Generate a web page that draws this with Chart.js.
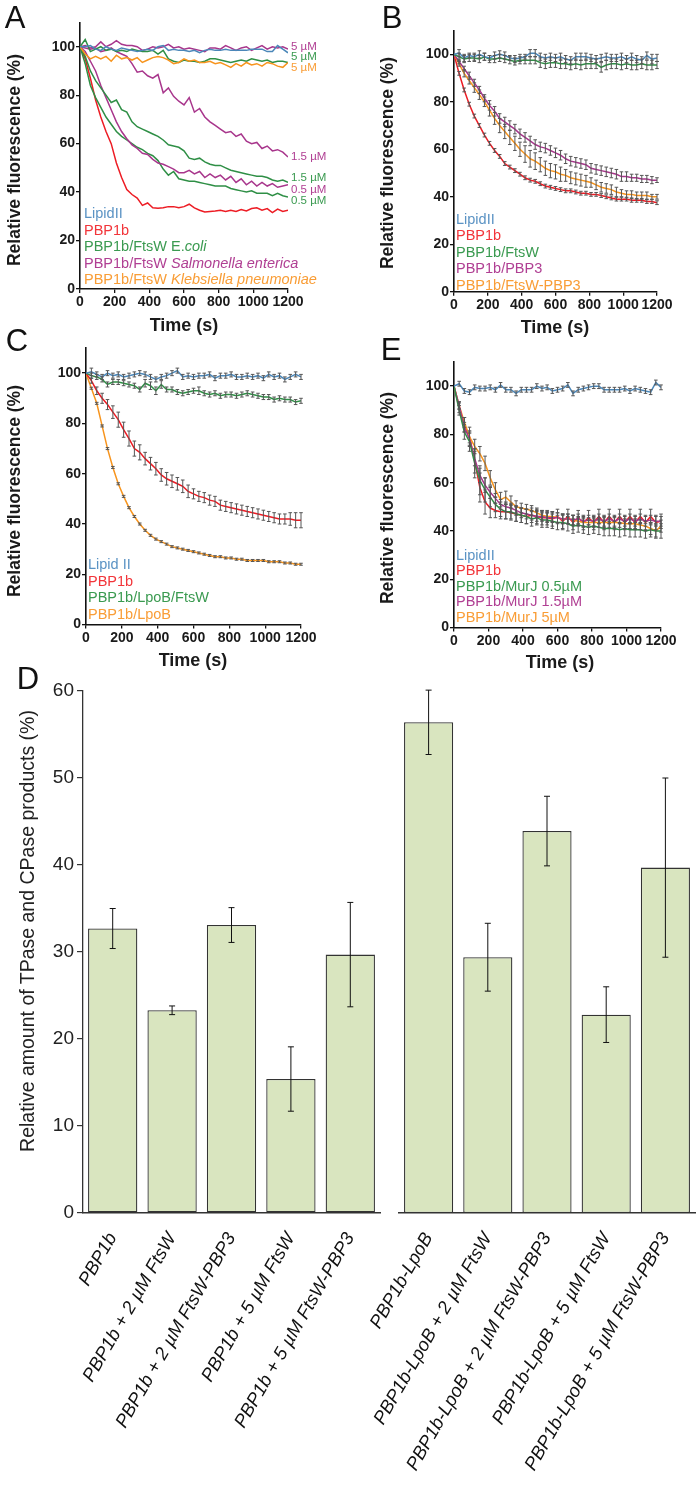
<!DOCTYPE html>
<html><head><meta charset="utf-8">
<script src="https://cdn.jsdelivr.net/npm/chart.js@4.4.0/dist/chart.umd.min.js"></script>
<style>
html,body{margin:0;padding:0;background:#fff;}
body{width:700px;height:1486px;position:relative;overflow:hidden;font-family:"Liberation Sans",Arial,sans-serif;}
canvas{position:absolute;}
.t{position:absolute;white-space:nowrap;line-height:1;}
</style></head><body>
<script>
// ---------------- DATA ----------------
const TIME = [0,30,60,90,120,150,180,210,240,270,300,330,360,390,420,450,480,510,540,570,600,630,660,690,720,750,780,810,840,870,900,930,960,990,1020,1050,1080,1110,1140,1170,1200];
const X_TICKS = [0,200,400,600,800,1000,1200];
const Y_TICKS = [0,20,40,60,80,100];
const D_TICKS = [0,10,20,30,40,50,60];

// Panel A
const A_LIPID = [100,100,100.5,99,98.5,100,99,98.5,99.5,99,98.5,98,98.5,99,98.5,100,100.5,98.5,99,98.5,98.5,98,98.5,97.5,98.5,99,98.5,98.5,99,98.5,98.5,98.5,98.5,99,99,99,98,98,100.5,99,97.5];
const A_PBP1B = [100,95,87,78,71,65,60,52,46,41,39,37.5,34.5,35.5,33.5,33.3,33.5,34,34,33.5,34,35,33.5,32.5,31.8,32,32.2,32.5,32,32.5,32,32.8,32.2,33.2,33.5,32.5,33.2,31.5,33,32,32.5];
const A_ECOLI_5 = [100,103,98,99,100,98.5,99,98,98.5,98,99,98.5,98,98,98.5,97,98.5,95,94,93.5,94.5,94,94,93.5,94,95,95,94.5,94,93.5,94,94.5,94,95,94.5,94,94.5,93.5,94,94,93.5];
const A_ECOLI_15 = [100,96,90,86,83,80,77,78,74,73,69,67,66,65,64,63,61.5,59.5,59,58.5,57,54,53.5,54,52.5,51.5,51,51,50,49,48.5,48,47.5,47,46.5,46.5,46,45,44.5,45,44];
const A_ECOLI_05 = [100,93,84,79,75,71,68,65,63,61.5,60,58.5,57.5,56,55,53,49.5,47,48.5,45.5,45,44.5,44.5,44,43.5,43,42.5,42.5,42.5,41.5,41,40.5,40,40.5,39.5,39.5,39.5,38.5,39.5,38.5,38];
const A_SAL_5 = [100,100.5,99.5,100,102,100,101,102.5,101,100.5,100.5,100,98.5,99,100,99.5,100,101,99.5,100,99,99.5,99,98.5,98,99.5,99.5,99,100.5,99.5,98.5,99.5,100,98.5,99.5,100.5,99,100,99.5,100,99];
const A_SAL_15 = [100,99.5,99,99.5,98,98.5,99.5,98,97,96,93,89.5,90,88,87,88.5,81,83,79.5,77.5,76,79,73,74.5,71,69,67.5,66,64.5,65,63,64,61,60,60.5,58,59,57,57.5,56.5,54.5];
const A_SAL_05 = [100,98,94,90,84,79,74,69,65,62,59.5,58,56,55.5,53.5,52,51.5,50.5,49.5,48,48,49,47.5,48.5,46,47.5,46,47,45,46.5,44,45.5,43,44.5,42.5,44,42.5,43.5,42,42.5,43];
const A_KLEB_5 = [100,97,95,96,95,96,94,96.5,95,95.5,94.5,95.5,93.5,94.5,95.5,96,95.5,94.5,93,93.5,95,94,94.5,93.5,93.5,94,93,93.5,92.5,91.5,93,92,93.5,92.5,93,92,93.5,93,92,91.5,93.5];
const A_SIDE_TEXT = ['5 µM','5 µM','5 µM','1.5 µM','1.5 µM','0.5 µM','0.5 µM'];
const A_SIDE_VAL = [100,95.7,91.2,54.5,45.8,40.9,36.3];

// Panel B
const B_LIPID = [100,100.5,98.5,99.5,99,100,99,98.5,99.5,100,99.5,98.5,98,98.5,99,100.5,100.5,99,98.5,99,98.5,99,98,97.5,99,99,99,98.5,98,98.5,99,98.5,98.5,99,98,99,98,97.5,99.5,98,98.5];
const B_PBP1B = [100,92,85,79,74,70,66,62.5,59.5,57,54,52.5,51,49.5,48,47,46.5,45.5,44.5,44,43.5,43,42.5,42.5,42,41.5,41.5,41,41,40.5,40,39.5,39,39,39,38.5,38.5,38.5,38,38,37.5];
const B_FTSW = [100,99,98,98.5,98.5,98,99,98,98,98.5,98,97.5,97,97.5,97.5,97.5,97.5,96.5,96,96.5,96.5,96,96,95.5,96,95.5,96,96,96,94.5,95.5,96,96,95.5,96,95.5,95.5,96,95.5,95.5,95.5];
const B_PBP3 = [100,97,94,91,88,85,81.5,78.5,76,73,71.5,70,68.5,66.5,65,63.5,62,61,60.5,59.5,58.5,57.5,56,55,54.5,54,53.5,52,51.5,51,50.5,50,49.5,48.5,48.5,48,48,47.5,47.5,47,47];
const B_FTSW_PBP3 = [100,96,92,89,86,83,80,76.5,73,70,67.5,65,62.5,60,58,56,55,53.5,52,51,50.5,49.5,49,48,47.5,47,46.5,46,45,44,43.5,43,42,41.5,41,41,40.5,40.5,40.5,40,40];
const B_LIPID_ERR = [0,1.5,1.5,1,1.5,1.5,1.5,1,1.5,1.5,1.5,1,1.5,1.5,1,1.5,1.5,1.5,1.5,1.5,1.5,1.5,1.5,1.5,1.5,1.5,1.5,1.5,1.5,1.5,1.5,1.5,1.5,1.5,1.5,1.5,1.5,1.5,1.5,2,1.5];
const B_PBP1B_ERR = [0,0.8,0.8,0.8,0.8,0.8,0.8,0.8,0.8,0.8,0.8,0.8,0.8,0.8,0.8,0.8,0.8,0.8,0.8,0.8,0.8,0.8,0.8,0.8,0.8,0.8,0.8,0.8,0.8,0.8,0.8,0.8,0.8,0.8,0.8,0.8,0.8,0.8,0.8,0.8,0.8];
const B_FTSW_ERR = [0,1.5,1.5,1.5,1.5,1.5,1.5,1.5,1.5,1.5,1.5,1.5,1.5,1.5,1.5,1.5,1.5,2,2,2,2,2,2,2,2,2,2,2,2,2,2,2,2,2,2,2,2,2,2,2,1.5];
const B_PBP3_ERR = [0,1,1,1.5,1.5,1.5,1.5,2,2,2,2,2,2,2,2,2,2,2,2,2,2,2,2,2,2,2,2,2,2,2,2,2,2,2,2,1.5,1.5,1.5,1.5,1.5,1];
const B_FTSW_PBP3_ERR = [0,1,1.5,1.5,2,2,2,2.5,2.5,3,3,3,3,3,3.5,3.5,3.5,3,3,3,3,3,2.5,2.5,2.5,2.5,2.5,2,2,2,2,2,2,1.5,1.5,1.5,1.5,1.5,1.5,1,1];

// Panel C
const C_LIPID = [100,100.5,99.5,98.5,100,99,99.5,98.5,99,99.5,100,99.5,98.5,97.5,98.5,99,100,101,98.5,99,98.5,99,99,99.5,98,99,99,99.5,98.5,98.5,99,98.5,99,98,99.5,98.5,99,97.5,98.5,99.5,98.5];
const C_PBP1B = [100,97,93,90,87.5,84.5,81.5,77.5,74,70,68.5,66,64,62,59.5,58,57,56,55,53,52,51,50.5,49.5,49,47.5,47,46.5,46,45.5,45,44.5,44,43.5,43,42.5,42,42,42,41.5,41.5];
const C_LPOB_FTSW = [100,99,98.5,97.5,95.5,96.5,96.5,96,95.5,95,93.5,96,95,93,95.5,93.5,93.5,92.5,92,92.5,93,93,92,91.5,92,91,91.5,91.5,91,91.5,92,91.5,91,90.5,90.5,89.5,90,89.5,89.5,88.5,89];
const C_LPOB = [100,94,88,79,70,62.5,56,51,46.5,43,40,37.5,35.5,34,33,32,31,30.5,30,29.5,29,28.5,28,27.5,27,27,26.5,26.5,26,26,25.5,25.5,25.5,25.5,25,25,25,24.5,24.5,24,24];
const C_LIPID_ERR = [0,1.5,1,1,1,1,1,1,1,1,1,1,1,1,1,1,1,1,1,1,1,1,1,1,1,1,1,1,1,1,1,1,1,1,1,1,1,1,1,1,1];
const C_PBP1B_ERR = [0,1,1.5,2,2,2.5,3,3,3,3,3,2.5,2.5,2.5,2.5,2.5,2.5,2.5,2.5,2.5,2,2,2,2,2,2,2,2,2,2,2,2,2,2,2,2,2,2,2.5,3,3];
const C_LPOB_FTSW_ERR = [0,1,1,1,1,1,1,1,1,1,1,1.5,1.5,1.5,1.5,1,1,1,1,1,1,1.5,1,1,1,1,1,1,1,1,1,1,1,1,1,1,1,1,1,1,1];
const C_LPOB_ERR = [0,0.4,0.4,0.4,0.4,0.4,0.4,0.4,0.4,0.4,0.4,0.4,0.4,0.4,0.4,0.4,0.4,0.4,0.4,0.4,0.4,0.4,0.4,0.4,0.4,0.4,0.4,0.4,0.4,0.4,0.4,0.4,0.4,0.4,0.4,0.4,0.4,0.4,0.4,0.4,0.4];

// Panel E
const E_LIPID = [100,101,98,97.5,99.5,99,99,99.5,98.5,100.5,98.5,98.5,97,98.5,98.5,98.5,100,99,99.5,98,98.5,99,100.5,97,98.5,99,99.5,100,100,98.5,98.5,98.5,98.5,99,98,99,98.5,98,97.5,101.5,99.5];
const E_PBP1B = [100,91,84,79,69,58,52,49.5,48.5,48,48,47.5,47,46.5,46,46.5,46,45.5,45.5,45,46,44,46,43.5,45.5,43.5,45.5,43.5,46,43.5,46,43.5,46,43.5,46,43.5,46,43.5,46,43.5,44];
const E_MURJ_05 = [100,90,81,77,68,61,57,54,51,49,48,48,47,46.5,46,45,45.5,44.5,44.5,44,43.5,43.5,43,42,42.5,42,41.5,42,41.5,41,41,41,40.5,41,40.5,40.5,40.5,40,40.5,40,40];
const E_MURJ_15 = [100,92,83,78,70,63,59,56,53.5,51,50,49.5,48.5,47.5,47,46.5,46,46,45.5,45.5,45.5,45,45,44.5,45,44,44.5,44,45,44,45,44,45,44,45,44,45,44,44.5,44,44];
const E_MURJ_5 = [100,92,85,79,75,72,68,62,57,53,54,52,50,49.5,49,48.5,47.5,46.5,46,46,45.5,45,45,44.5,44,43.5,43.5,43.5,43.5,43.5,43.5,43.5,43.5,43,43,43,42.5,42,41,40,42];
const E_LIPID_ERR = [0,1,1,1,1,1,1,1,1,1,1,1,1,1,1,1,1,1,1,1,1,1,1,1,1,1,1,1,1,1,1,1,1,1,1,1,1,1,1,1,1];
const E_PBP1B_ERR = [0,2,3,4,5,6,5,4,3,3,3,3,3,3,3,3,3,3,3,3,3,3,3,3,3,3,3,3,3,3,3,3,3,3,3,3,3,3,3,3,3];
const E_MURJ_05_ERR = [0,2,3,4,6,6,5,4,3,3,3,3,3,3,3,3,3,3,3,3,3,3,3,3,3,3,3,3,3,3,3,3,3,3,3,3,3,3,3,3,3];
const E_MURJ_15_ERR = [0,1.5,2,2.5,3,3,3,2.5,2,2,2,2,2,2,2,2,2,2,2,2,2,2,2,2,2,2,2,2,2,2,2,2,2,2,2,2,2,2,2,2,2];
const E_MURJ_5_ERR = [0,1.5,2,2.5,3,3,3,3,3,3,2.5,2.5,2.5,2,2,2,2,2,2,2,2,2,2,2,2,2,2,2,2,2,2,2,2,2,2,2,2,2,2.5,2.5,2.5];

// Panel D
const D_CATS_L = ['PBP1b','PBP1b + 2 µM FtsW','PBP1b + 2 µM FtsW-PBP3','PBP1b + 5 µM FtsW','PBP1b + 5 µM FtsW-PBP3'];
const D_VALS_L = [32.7,23.3,33.1,15.4,29.7];
const D_ERR_L = [2.3,0.5,2.0,3.7,6.0];
const D_CATS_R = ['PBP1b-LpoB','PBP1b-LpoB + 2 µM FtsW','PBP1b-LpoB + 2 µM FtsW-PBP3','PBP1b-LpoB + 5 µM FtsW','PBP1b-LpoB + 5 µM FtsW-PBP3'];
const D_VALS_R = [56.4,29.4,43.9,22.8,39.7];
const D_ERR_R = [3.7,3.9,4.0,3.2,10.3];

// ---------------- STYLE ----------------
const COL = {blue:'#4b87b9', red:'#ed1c24', green:'#2f8f46', magenta:'#a8368c', orange:'#f7941d'};
const TXT = {blue:'#5b93c4', red:'#f2353a', green:'#3a9a50', magenta:'#b03f93', orange:'#f99d36'};
const FONT = '"Liberation Sans", Arial, sans-serif';

const errPlugin = {
  id:'errbars',
  afterDatasetsDraw(chart){
    const ctx = chart.ctx, ys = chart.scales.y;
    chart.data.datasets.forEach((ds,di)=>{
      if(!ds.errors) return;
      const meta = chart.getDatasetMeta(di);
      ctx.save();
      ctx.strokeStyle = ds.errColor || '#555';
      ctx.lineWidth = ds.errWidth || 1;
      meta.data.forEach((el,i)=>{
        const e = ds.errors[i];
        if(!e) return;
        const d = ds.data[i];
        const v = (typeof d === 'object') ? d.y : d;
        const y1 = ys.getPixelForValue(v+e), y2 = ys.getPixelForValue(v-e);
        const x = el.x, cw = ds.capW || 1.8;
        ctx.beginPath();
        ctx.moveTo(x,y1); ctx.lineTo(x,y2);
        ctx.moveTo(x-cw,y1); ctx.lineTo(x+cw,y1);
        ctx.moveTo(x-cw,y2); ctx.lineTo(x+cw,y2);
        ctx.stroke();
      });
      ctx.restore();
    });
  }
};
const sidePlugin = {
  id:'sideLabels',
  afterDraw(chart, args, opts){
    if(!opts || !opts.items) return;
    const ctx = chart.ctx, ys = chart.scales.y, ca = chart.chartArea;
    ctx.save();
    ctx.font = '11.5px ' + FONT;
    ctx.textBaseline = 'middle';
    ctx.textAlign = 'left';
    opts.items.forEach(it=>{
      ctx.fillStyle = it.color;
      ctx.fillText(it.text, ca.right + 3, ys.getPixelForValue(it.y));
    });
    ctx.restore();
  }
};

function addCanvas(left, top, w, h){
  const cv = document.createElement('canvas');
  cv.width = w; cv.height = h;
  cv.style.left = left + 'px'; cv.style.top = top + 'px';
  cv.style.width = w + 'px'; cv.style.height = h + 'px';
  document.body.appendChild(cv);
  return cv;
}
function noPadX(s, h){ s.height = h; s.paddingLeft = 0; s.paddingRight = 0; }
function noPadY(s, w){ s.width = w; s.paddingTop = 0; s.paddingBottom = 0; }

// g: canvas left (cl), chart area L,R,T,B in page coords
function makeLine(g, series, sideItems){
  const top = Math.floor(g.T) - 12;
  const h = Math.ceil(g.B + 30 - top);
  const w = Math.round(g.R + (sideItems ? 48 : 26) - g.cl);
  const cv = addCanvas(g.cl, top, w, h);
  const xH = top + h - g.B;
  const yW = g.L - g.cl;
  new Chart(cv, {
    type:'line',
    data:{datasets: series.map(s=>({
      data: TIME.map((t,i)=>({x:t, y:s.v[i]})),
      borderColor: s.c, backgroundColor: s.c, borderWidth: 1.5,
      pointRadius: 0, tension: 0, fill: false, errors: s.e || null
    }))},
    options:{
      responsive:false, animation:false, devicePixelRatio:1,
      layout:{padding:{top: g.T - top, right: w - (g.R - g.cl), left:0, bottom:0}},
      plugins:{legend:{display:false}, tooltip:{enabled:false}, sideLabels:{items: sideItems || null}},
      scales:{
        x:{type:'linear', min:0, max:1200,
          afterBuildTicks: s=>{ s.ticks = X_TICKS.map(v=>({value:v})); },
          afterFit: s=>noPadX(s, xH),
          ticks:{font:{family:FONT, weight:'bold', size:14}, color:'#1a1a1a', maxRotation:0, autoSkip:false, padding:1,
                 callback: v=>String(v)},
          grid:{display:true, drawOnChartArea:false, drawTicks:true, tickLength:4, color:'#111', lineWidth:1.3},
          border:{display:true, color:'#111', width:1.6}
        },
        y:{type:'linear', min:0, max:110,
          afterBuildTicks: s=>{ s.ticks = Y_TICKS.map(v=>({value:v})); },
          afterFit: s=>noPadY(s, yW),
          ticks:{font:{family:FONT, weight:'bold', size:14}, color:'#1a1a1a', padding:1, callback: v=>String(v)},
          grid:{display:true, drawOnChartArea:false, drawTicks:true, tickLength:4, color:'#111', lineWidth:1.3},
          border:{display:true, color:'#111', width:1.6}
        }
      }
    },
    plugins:[errPlugin, sidePlugin]
  });
}

function makeBar(g, cats, vals, errs, showY){
  const top = Math.round(g.T) - 14;
  const h = 1486 - top;
  const w = g.cw;
  const cv = addCanvas(g.cl, top, w, h);
  const xH = top + h - g.B;
  new Chart(cv, {
    type:'bar',
    data:{labels: cats, datasets:[{data: vals, errors: errs, backgroundColor:'#d9e5bf', borderColor:'#333',
      borderWidth:1.3, borderSkipped:false, barPercentage:0.83, categoryPercentage:1, errColor:'#111', capW:3}]},
    options:{
      responsive:false, animation:false, devicePixelRatio:1,
      layout:{padding:{top: g.T - top, right: w - (g.R - g.cl), left: 0, bottom:0}},
      plugins:{legend:{display:false}, tooltip:{enabled:false}},
      scales:{
        x:{type:'category',
          afterFit: s=>noPadX(s, xH),
          ticks:{font:{family:FONT, style:'italic', size:18.5}, color:'#111', minRotation:60, maxRotation:60, autoSkip:false, padding:8},
          grid:{display:false},
          border:{display:true, color:'#333', width:1.6}
        },
        y:{type:'linear', min:0, max:60, display: true,
          afterBuildTicks: s=>{ s.ticks = D_TICKS.map(v=>({value:v})); },
          afterFit: s=>noPadY(s, g.L - g.cl),
          ticks:{display: showY, font:{family:FONT, size:19}, color:'#222', padding:3},
          grid:{display: showY, drawOnChartArea:false, drawTicks:true, tickLength:6, color:'#333', lineWidth:1.2},
          border:{display: showY, color:'#333', width:1.3}
        }
      }
    },
    plugins:[errPlugin]
  });
}

// ---------------- CHARTS ----------------
makeLine({cl:0, L:80, R:288, T:22.5, B:289}, [
  {v:A_LIPID, c:COL.blue},
  {v:A_KLEB_5, c:COL.orange},
  {v:A_ECOLI_5, c:COL.green},
  {v:A_SAL_5, c:COL.magenta},
  {v:A_SAL_15, c:COL.magenta},
  {v:A_ECOLI_15, c:COL.green},
  {v:A_SAL_05, c:COL.magenta},
  {v:A_ECOLI_05, c:COL.green},
  {v:A_PBP1B, c:COL.red}
], A_SIDE_TEXT.map((t,i)=>({text:t, y:A_SIDE_VAL[i], color:[TXT.magenta,TXT.green,TXT.orange,TXT.magenta,TXT.green,TXT.magenta,TXT.green][i]})));

makeLine({cl:360, L:454, R:657, T:30.6, B:291.7}, [
  {v:B_LIPID, c:COL.blue, e:B_LIPID_ERR},
  {v:B_FTSW, c:COL.green, e:B_FTSW_ERR},
  {v:B_PBP3, c:COL.magenta, e:B_PBP3_ERR},
  {v:B_FTSW_PBP3, c:COL.orange, e:B_FTSW_PBP3_ERR},
  {v:B_PBP1B, c:COL.red, e:B_PBP1B_ERR}
]);

makeLine({cl:0, L:86, R:301, T:348, B:624.6}, [
  {v:C_LIPID, c:COL.blue, e:C_LIPID_ERR},
  {v:C_LPOB_FTSW, c:COL.green, e:C_LPOB_FTSW_ERR},
  {v:C_PBP1B, c:COL.red, e:C_PBP1B_ERR},
  {v:C_LPOB, c:COL.orange, e:C_LPOB_ERR}
]);

makeLine({cl:360, L:454, R:661, T:362, B:627.5}, [
  {v:E_LIPID, c:COL.blue, e:E_LIPID_ERR},
  {v:E_MURJ_05, c:COL.green, e:E_MURJ_05_ERR},
  {v:E_MURJ_15, c:COL.magenta, e:E_MURJ_15_ERR},
  {v:E_MURJ_5, c:COL.orange, e:E_MURJ_5_ERR},
  {v:E_PBP1B, c:COL.red, e:E_PBP1B_ERR}
]);

makeBar({cl:0, cw:385, L:83, R:380, T:691, B:1213}, D_CATS_L, D_VALS_L, D_ERR_L, true);
makeBar({cl:300, cw:400, L:399, R:695, T:691, B:1213}, D_CATS_R, D_VALS_R, D_ERR_R, false);

// ---------------- TEXT ----------------
function txt(html, x, y, css, mode){
  const d = document.createElement('div');
  d.className = 't';
  d.innerHTML = html;
  d.style.cssText += css;
  d.style.left = x + 'px'; d.style.top = y + 'px';
  if(mode === 'left') d.style.transform = 'translate(0,-50%)';
  else if(mode === 'rot') d.style.transform = 'translate(-50%,-50%) rotate(-90deg)';
  else d.style.transform = 'translate(-50%,-50%)';
  document.body.appendChild(d);
}
const LETTER = 'font-size:31px;color:#111;';
txt('A', 15, 17, LETTER); txt('B', 392, 17, LETTER); txt('C', 17, 340, LETTER);
txt('E', 391, 349, LETTER); txt('D', 28, 678, LETTER);

const YT = 'font-size:17.5px;font-weight:bold;color:#1a1a1a;';
txt('Relative fluorescence (%)', 15, 160, YT, 'rot');
txt('Relative fluorescence (%)', 388, 163, YT, 'rot');
txt('Relative fluorescence (%)', 15, 491, YT, 'rot');
txt('Relative fluorescence (%)', 388, 498, YT, 'rot');
const XT = 'font-size:18px;font-weight:bold;color:#1a1a1a;';
txt('Time (s)', 184, 325, XT); txt('Time (s)', 555, 327, XT);
txt('Time (s)', 193, 660, XT); txt('Time (s)', 560, 662, XT);
txt('Relative amount of TPase and CPase products (%)', 28, 931, 'font-size:19.5px;color:#222;', 'rot');

const LEG = 'font-size:14.5px;';
const LEG_A = ['LipidII','PBP1b','PBP1b/FtsW E.<i>coli</i>','PBP1b/FtsW <i>Salmonella enterica</i>','PBP1b/FtsW <i>Klebsiella pneumoniae</i>'];
const LEG_B = ['LipidII','PBP1b','PBP1b/FtsW','PBP1b/PBP3','PBP1b/FtsW-PBP3'];
const LEG_C = ['Lipid II','PBP1b','PBP1b/LpoB/FtsW','PBP1b/LpoB'];
const LEG_E = ['LipidII','PBP1b','PBP1b/MurJ 0.5µM','PBP1b/MurJ 1.5µM','PBP1b/MurJ 5µM'];
const C5 = [TXT.blue, TXT.red, TXT.green, TXT.magenta, TXT.orange];
LEG_A.forEach((s,i)=>txt(s, 84, 213 + i*16.5, LEG + 'color:' + C5[i] + ';', 'left'));
LEG_B.forEach((s,i)=>txt(s, 456, 219 + i*16.4, LEG + 'color:' + C5[i] + ';', 'left'));
LEG_C.forEach((s,i)=>txt(s, 88, 564 + i*16.7, LEG + 'color:' + [TXT.blue,TXT.red,TXT.green,TXT.orange][i] + ';', 'left'));
LEG_E.forEach((s,i)=>txt(s, 456, 555 + i*15.4, LEG + 'color:' + C5[i] + ';', 'left'));
</script>
</body></html>
